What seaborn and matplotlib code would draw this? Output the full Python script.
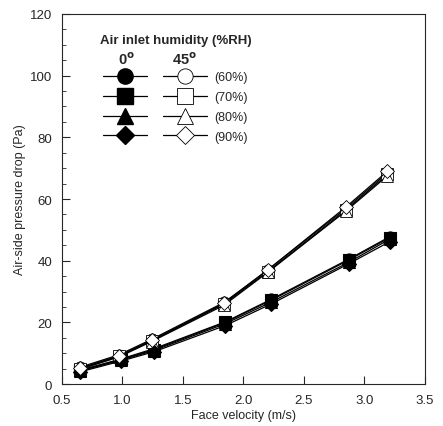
import numpy as np
import pandas as pd
import matplotlib
matplotlib.use("Agg")
import matplotlib.pyplot as plt
import seaborn as sns
from matplotlib.lines import Line2D
from matplotlib.ticker import MultipleLocator

sns.set_style("ticks")
plt.rcParams['font.family'] = ['Liberation Sans', 'DejaVu Sans']

# data
humidity = ['(60%)', '(70%)', '(80%)', '(90%)']
markers = ['o', 's', '^', 'D']

v_0 = [0.65, 0.99, 1.26, 1.85, 2.23, 2.87, 3.21]
v_45 = [0.65, 0.97, 1.24, 1.84, 2.20, 2.85, 3.19]

dp_0 = {
    '(60%)': [4.5, 8.2, 11.5, 20.2, 27.5, 40.5, 47.8],
    '(70%)': [4.5, 8.0, 11.2, 20.0, 27.2, 40.2, 47.5],
    '(80%)': [4.3, 7.8, 10.9, 19.6, 26.6, 39.5, 47.0],
    '(90%)': [4.0, 7.5, 10.5, 19.0, 26.0, 39.0, 46.2],
}
dp_45 = {
    '(60%)': [5.5, 9.5, 14.5, 26.5, 37.0, 57.0, 68.5],
    '(70%)': [5.0, 9.0, 14.0, 26.0, 36.5, 56.5, 68.0],
    '(80%)': [4.8, 8.8, 13.8, 25.6, 36.2, 56.2, 67.5],
    '(90%)': [5.2, 9.2, 14.2, 26.2, 37.0, 57.5, 69.0],
}

fig = plt.figure(figsize=(4.43, 4.27), dpi=100)
ax = fig.add_axes([0.14, 0.098, 0.819, 0.867])

for h, m in zip(humidity, markers):
    sns.lineplot(x=v_0, y=dp_0[h], ax=ax, color='black', lw=0.9,
                 marker=m, markersize=8 if m != 'D' else 7,
                 markerfacecolor='black', markeredgecolor='black',
                 markeredgewidth=0.8)
    sns.lineplot(x=v_45, y=dp_45[h], ax=ax, color='black', lw=0.9,
                 marker=m, markersize=8 if m != 'D' else 7,
                 markerfacecolor='white', markeredgecolor='black',
                 markeredgewidth=0.6)

ax.set_xlim(0.5, 3.5)
ax.set_ylim(0, 120)
ax.xaxis.set_major_locator(MultipleLocator(0.5))
ax.yaxis.set_major_locator(MultipleLocator(20))
ax.yaxis.set_minor_locator(MultipleLocator(5))
ax.tick_params(direction='in', labelsize=9.5, length=6, width=0.8, pad=7)
ax.tick_params(which='minor', direction='in', length=3, width=0.6)
for s in ax.spines.values():
    s.set_linewidth(0.8)
ax.set_xlabel('Face velocity (m/s)', fontsize=9, labelpad=2)
ax.set_ylabel('Air-side pressure drop (Pa)', fontsize=9, labelpad=3)

# legend
filled = [Line2D([], [], color='black', lw=0.9, marker=m, ms=11 if m != 'D' else 9,
                 mfc='black', mec='black') for m in markers]
opened = [Line2D([], [], color='black', lw=0.9, marker=m, ms=11 if m != 'D' else 9,
                 mfc='white', mec='black', mew=0.6) for m in markers]
leg = ax.legend(filled + opened, [''] * 4 + humidity, ncol=2, frameon=False,
                loc='upper left', bbox_to_anchor=(0.082, 0.875),
                handlelength=3.5, columnspacing=0.7, labelspacing=0.62,
                fontsize=9, handletextpad=0.6)
ax.text(0.105, 0.93, 'Air inlet humidity (%RH)', transform=ax.transAxes,
        fontsize=9.5, fontweight='bold', ha='left', va='center')
ax.text(0.178, 0.88, '0$^\\mathbf{o}$', transform=ax.transAxes,
        fontsize=10.5, fontweight='bold', ha='center', va='center')
ax.text(0.338, 0.88, '45$^\\mathbf{o}$', transform=ax.transAxes,
        fontsize=10.5, fontweight='bold', ha='center', va='center')

fig.savefig('out.png', dpi=100)
